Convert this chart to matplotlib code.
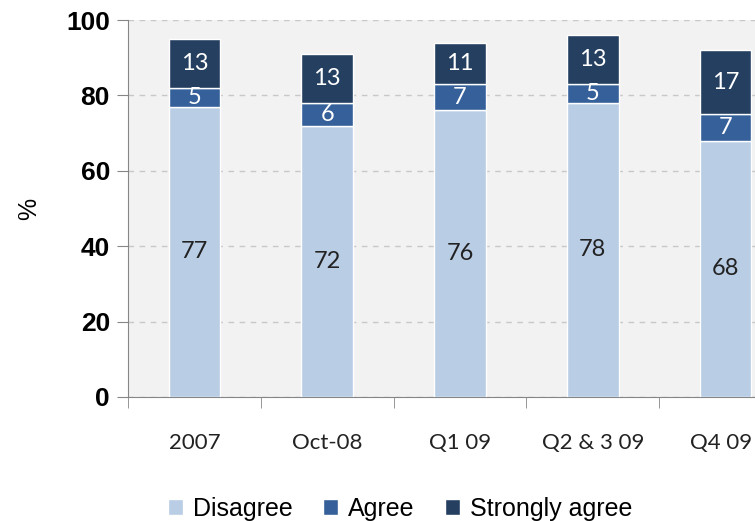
import matplotlib.pyplot as plt
import matplotlib.transforms as mtransforms
import numpy as np

categories = ["2007", "Oct-08", "Q1 09", "Q2 & 3 09", "Q4 09"]
disagree = [77, 72, 76, 78, 68]
agree = [5, 6, 7, 5, 7]
strongly = [13, 13, 11, 13, 17]

c_dis = "#b9cde5"
c_agr = "#35609a"
c_str = "#243f60"

fig = plt.figure(figsize=(7.55, 5.21), dpi=100)
# plot area runs off the right edge like the original
ax = fig.add_axes([128 / 755, 124 / 521, 664 / 755, 377 / 521])
ax.set_facecolor("#f2f2f2")

x = np.arange(len(categories))
w = 0.39
b1 = ax.bar(x, disagree, w, color=c_dis, edgecolor="white", linewidth=1, zorder=3)
b2 = ax.bar(x, agree, w, bottom=disagree, color=c_agr, edgecolor="white", linewidth=1, zorder=3)
bot3 = np.array(disagree) + np.array(agree)
b3 = ax.bar(x, strongly, w, bottom=bot3, color=c_str, edgecolor="white", linewidth=1, zorder=3)

lab_font = "Lato"
ax.bar_label(b1, label_type="center", fontsize=17, color="#222222", family=lab_font)
ax.bar_label(b2, label_type="center", fontsize=17, color="white", family=lab_font)
ax.bar_label(b3, label_type="center", fontsize=17, color="white", family=lab_font)

ax.set_xlim(-0.5, 4.5)
ax.set_ylim(0, 100)
ax.set_yticks([0, 20, 40, 60, 80, 100])
ax.yaxis.grid(True, linestyle=(0, (4, 4)), color="#c8c8c8", linewidth=1, zorder=0)
for lab in ax.get_yticklabels():
    lab.set_fontweight("bold")
    lab.set_fontsize(19)
    lab.set_family("Liberation Sans")
ax.tick_params(axis="y", length=8, color="#868686", pad=5)

ax.set_xticks(x)
ax.set_xticklabels(categories, fontsize=16, family=lab_font, color="#222222")
ax.set_xticks(np.arange(-0.5, 5, 1), minor=True)
ax.tick_params(axis="x", which="major", length=0, pad=26)
ax.tick_params(axis="x", which="minor", length=8, color="#868686")
# last label sits right at the figure edge: right-align it just inside
last = ax.get_xticklabels()[-1]
last.set_horizontalalignment("right")
last.set_transform(last.get_transform() + mtransforms.ScaledTranslation(0.27, 0, fig.dpi_scale_trans))

for s in ["top", "right"]:
    ax.spines[s].set_visible(False)
for s in ["left", "bottom"]:
    ax.spines[s].set_color("#868686")

ax.set_ylabel("%", fontsize=18, family="Liberation Sans", labelpad=18)

fig.legend([b1, b2, b3], ["Disagree", "Agree", "Strongly agree"],
           loc="center", bbox_to_anchor=(0.53, 0.023), ncol=3, frameon=False,
           prop={"family": "Liberation Sans", "size": 18},
           handlelength=0.6, handleheight=0.6, handletextpad=0.4, columnspacing=1.2)

fig.savefig("out.png", dpi=100)
